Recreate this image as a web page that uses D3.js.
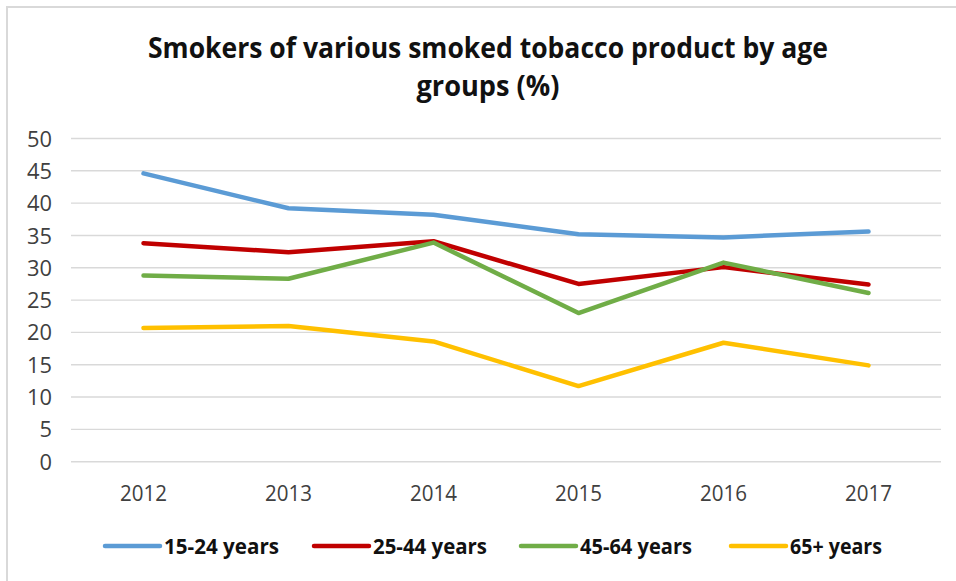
<!DOCTYPE html>
<html>
<head>
<meta charset="utf-8">
<script src="https://cdn.jsdelivr.net/npm/d3@7"></script>
<style>
  html, body { margin: 0; padding: 0; background: #fff; }
  svg { display: block; font-family: "Open Sans", "Noto Sans", sans-serif; }
</style>
</head>
<body>
<svg id="chart" width="956" height="581"></svg>
<script>
// Survey years and age-group series (% of smokers of smoked tobacco products)
const years = ["2012", "2013", "2014", "2015", "2016", "2017"];
const seriesNames = ["15-24 years", "25-44 years", "45-64 years", "65+ years"];
const age15to24 = [44.6, 39.2, 38.2, 35.2, 34.7, 35.6];
const age25to44 = [33.8, 32.4, 34.1, 27.5, 30.1, 27.4];
const age45to64 = [28.8, 28.3, 33.9, 23.0, 30.8, 26.1];
const age65plus = [20.7, 21.0, 18.6, 11.7, 18.4, 14.9];
const yTicks = [0, 5, 10, 15, 20, 25, 30, 35, 40, 45, 50];
const seriesColors = ["#5B9BD5", "#C00000", "#70AD47", "#FFC000"];

const seriesValues = [age15to24, age25to44, age45to64, age65plus];

const svg = d3.select("#chart");

// Outer frame of the chart area
svg.append("path")
  .attr("d", "M7,581 V7 H956")
  .attr("fill", "none")
  .attr("stroke", "#D9D9D9")
  .attr("stroke-width", 2);

// Title (two lines)
const titleLines = [
  { text: "Smokers of various smoked tobacco product by age", y: 58, w: 680 },
  { text: "groups (%)", y: 96, w: 143 }
];
svg.append("g").selectAll("text")
  .data(titleLines)
  .join("text")
  .attr("x", 488)
  .attr("y", d => d.y)
  .attr("text-anchor", "middle")
  .attr("font-size", 28)
  .attr("font-weight", "bold")
  .attr("fill", "#111")
  .attr("textLength", d => d.w)
  .attr("lengthAdjust", "spacingAndGlyphs")
  .text(d => d.text);

// Scales
const plot = { left: 71, right: 941, top: 138.5, bottom: 461.7 };
const x = d3.scaleBand().domain(years).range([plot.left, plot.right]);
const y = d3.scaleLinear().domain([0, 50]).range([plot.bottom, plot.top]);
const xc = d => x(d) + x.bandwidth() / 2;

// Horizontal gridlines
svg.append("g").selectAll("line")
  .data(yTicks)
  .join("line")
  .attr("x1", plot.left)
  .attr("x2", plot.right)
  .attr("y1", d => y(d))
  .attr("y2", d => y(d))
  .attr("stroke", "#D9D9D9")
  .attr("stroke-width", 1.4);

// Y-axis tick labels
const yAxis = d3.axisLeft(y).tickValues(yTicks).tickSize(0).tickPadding(0);
const yg = svg.append("g")
  .attr("transform", "translate(52,0)")
  .call(yAxis);
yg.select(".domain").remove();
yg.selectAll("text")
  .attr("font-family", "\"Open Sans\", sans-serif")
  .attr("font-size", 21)
  .attr("fill", "#404040")
  .attr("dy", "0.36em")
  .attr("textLength", d => String(d).length * 12.5)
  .attr("lengthAdjust", "spacingAndGlyphs");

// X-axis category labels
const xAxis = d3.axisBottom(x).tickSize(0).tickPadding(0);
const xg = svg.append("g")
  .attr("transform", "translate(0,501)")
  .call(xAxis);
xg.select(".domain").remove();
xg.selectAll("text")
  .attr("font-family", "\"Open Sans\", sans-serif")
  .attr("font-size", 22)
  .attr("fill", "#404040")
  .attr("dy", 0)
  .attr("textLength", 47)
  .attr("lengthAdjust", "spacingAndGlyphs");

// Series lines
const line = d3.line()
  .x((d, i) => xc(years[i]))
  .y(d => y(d));

svg.append("g").selectAll("path")
  .data(seriesValues)
  .join("path")
  .attr("d", d => line(d))
  .attr("fill", "none")
  .attr("stroke", (d, i) => seriesColors[i])
  .attr("stroke-width", 4.5)
  .attr("stroke-linejoin", "round")
  .attr("stroke-linecap", "round");

// Legend
const legendItems = [
  { x: 105, w: 115 },
  { x: 314, w: 114 },
  { x: 521, w: 112 },
  { x: 731, w: 92 }
];
const lg = svg.append("g").selectAll("g")
  .data(seriesNames)
  .join("g")
  .attr("transform", (d, i) => `translate(${legendItems[i].x},546)`);
lg.append("line")
  .attr("x1", 0).attr("x2", 55)
  .attr("y1", 0).attr("y2", 0)
  .attr("stroke", (d, i) => seriesColors[i])
  .attr("stroke-width", 4.5)
  .attr("stroke-linecap", "round");
lg.append("text")
  .attr("x", 59)
  .attr("y", 7.5)
  .attr("font-size", 21)
  .attr("font-weight", "bold")
  .attr("fill", "#111")
  .attr("textLength", (d, i) => legendItems[i].w)
  .attr("lengthAdjust", "spacingAndGlyphs")
  .text(d => d);
</script>
</body>
</html>
